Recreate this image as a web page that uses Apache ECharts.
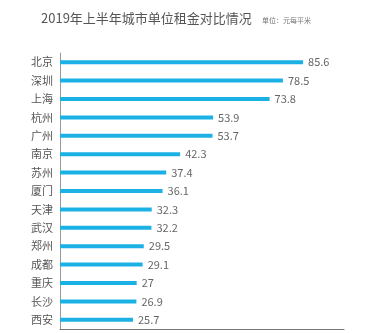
<!DOCTYPE html>
<html><head><meta charset="utf-8">
<script src="https://cdn.jsdelivr.net/npm/echarts@6/dist/echarts.min.js"></script>
<style>html,body{margin:0;padding:0;background:#fff}#c{width:368px;height:333px}</style>
</head><body><div id="c"></div>
<script>
var cities = ['北京','深圳','上海','杭州','广州','南京','苏州','厦门','天津','武汉','郑州','成都','重庆','长沙','西安'];
var rents = [85.6,78.5,73.8,53.9,53.7,42.3,37.4,36.1,32.3,32.2,29.5,29.1,27,26.9,25.7];
var titleText = '2019年上半年城市单位租金对比情况';
var unitText = '单位：元每平米';
var chart = echarts.init(document.getElementById('c'));
var font = '"Noto Sans CJK SC", "Noto Sans", sans-serif';
chart.setOption({
  animation: false,
  title: [
    {text: titleText, left: 36, top: 7, textStyle: {fontSize: 13, fontWeight: 'normal', color: '#555', fontFamily: font}},
    {text: unitText, left: 257, top: 12, textStyle: {fontSize: 7, fontWeight: 'normal', color: '#777', fontFamily: font}}
  ],
  grid: {left: 60, right: 24, top: 53, bottom: 4, containLabel: false},
  xAxis: {type: 'value', min: 0, max: 100, show: true,
    axisLine: {show: true, lineStyle: {color: '#777', width: 1}},
    axisTick: {show: false}, axisLabel: {show: false}, splitLine: {show: false}},
  yAxis: {type: 'category', inverse: true, data: cities,
    axisLine: {show: true, lineStyle: {color: '#999', width: 1}},
    axisTick: {show: false},
    axisLabel: {color: '#555', fontSize: 11, margin: 7, fontFamily: font}},
  series: [{type: 'bar', data: rents, barWidth: 4,
    itemStyle: {color: '#1CB1E5'},
    label: {show: true, position: 'right', distance: 5, color: '#666', fontSize: 11, fontFamily: font}}]
});
</script></body></html>
